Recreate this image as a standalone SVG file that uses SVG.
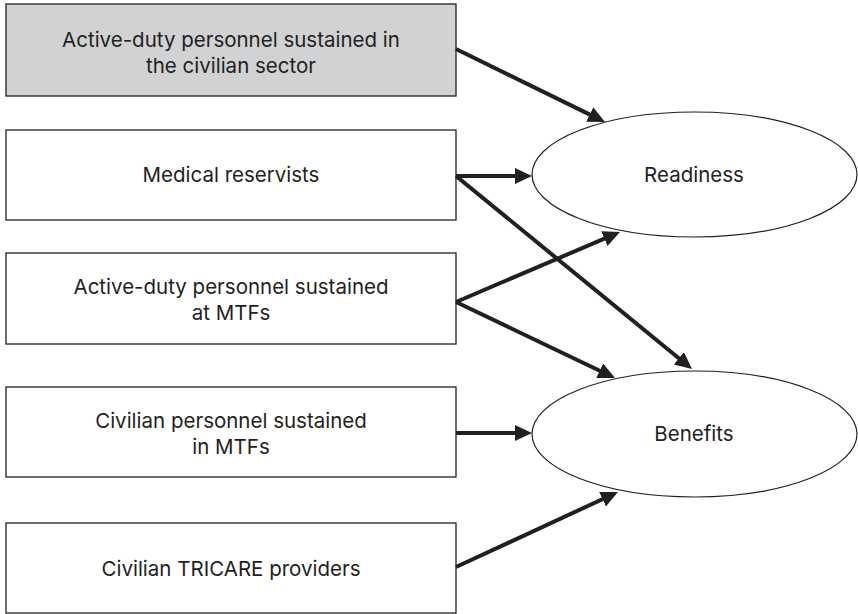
<svg xmlns="http://www.w3.org/2000/svg" width="858" height="614" viewBox="0 0 858 614">
<style>
.box{fill:#ffffff;stroke:#231f20;stroke-width:1.3}
.grey{fill:#d1d2d4}
.ell{fill:#ffffff;stroke:#231f20;stroke-width:1.2}
.t{font-family:Inter,"Noto Sans",sans-serif;font-size:20.5px;fill:#231f20;text-anchor:middle}
.c{stroke:#231f20;stroke-width:4;fill:none;marker-end:url(#ah)}
</style>
<defs>
<marker id="ah" markerUnits="userSpaceOnUse" markerWidth="20" markerHeight="18" refX="7" refY="8" orient="auto">
<path d="M0,0 L17,8 L0,16 z" fill="#231f20"/>
</marker>
</defs>
<rect width="858" height="614" fill="#ffffff"/>
<g id="n1"><rect class="box grey" x="6" y="4" width="450" height="92"/><text class="t" x="231" y="47">Active-duty personnel sustained in</text><text class="t" x="231" y="73">the civilian sector</text></g>
<g id="n2"><rect class="box" x="6" y="130" width="450" height="90"/><text class="t" x="231" y="182">Medical reservists</text></g>
<g id="n3"><rect class="box" x="6" y="253" width="450" height="91"/><text class="t" x="231" y="294">Active-duty personnel sustained</text><text class="t" x="231" y="320">at MTFs</text></g>
<g id="n4"><rect class="box" x="6" y="387" width="450" height="90"/><text class="t" x="231" y="428">Civilian personnel sustained</text><text class="t" x="231" y="454">in MTFs</text></g>
<g id="n5"><rect class="box" x="6" y="523" width="450" height="90"/><text class="t" x="231" y="576">Civilian TRICARE providers</text></g>
<g id="readiness"><ellipse class="ell" cx="694.5" cy="174.5" rx="162.5" ry="62.5"/><text class="t" x="694" y="182">Readiness</text></g>
<g id="benefits"><ellipse class="ell" cx="694.5" cy="434" rx="162.5" ry="63"/><text class="t" x="694" y="441">Benefits</text></g>
<g id="connectors">
<line class="c" x1="456" y1="49" x2="596" y2="117.6"/>
<line class="c" x1="456" y1="176" x2="522" y2="176"/>
<line class="c" x1="456" y1="176" x2="684.3" y2="362.7"/>
<line class="c" x1="456" y1="302" x2="610.8" y2="235.9"/>
<line class="c" x1="456" y1="302" x2="606" y2="373.7"/>
<line class="c" x1="456" y1="433" x2="522" y2="433"/>
<line class="c" x1="456" y1="567" x2="608.9" y2="496.2"/>
</g>
</svg>
